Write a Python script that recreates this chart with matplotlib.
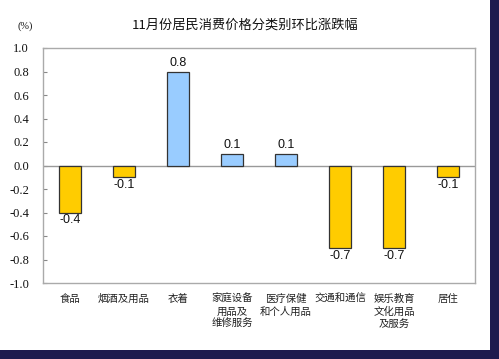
import matplotlib.pyplot as plt
from matplotlib.patches import Rectangle
import numpy as np

categories = ["食品", "烟酒及用品", "衣着", "家庭设备\n用品及\n维修服务",
              "医疗保健\n和个人用品", "交通和通信", "娱乐教育\n文化用品\n及服务", "居住"]
values = [-0.4, -0.1, 0.8, 0.1, 0.1, -0.7, -0.7, -0.1]
yticks = [-1.0, -0.8, -0.6, -0.4, -0.2, 0.0, 0.2, 0.4, 0.6, 0.8, 1.0]

cjk = ["Noto Sans CJK SC", "DejaVu Sans"]

fig = plt.figure(figsize=(4.99, 3.59), dpi=100)
fig.patch.set_facecolor("white")
# dark frame at right and bottom
fig.patches.append(Rectangle((490 / 499, 0), 9 / 499, 1, transform=fig.transFigure,
                             facecolor="#1e1b4e", edgecolor="none"))
fig.patches.append(Rectangle((0, 0), 1, 9 / 359, transform=fig.transFigure,
                             facecolor="#1e1b4e", edgecolor="none"))

ax = fig.add_axes([43 / 499, 1 - 283 / 359, 432 / 499, 235 / 359])
x = np.arange(len(values))
colors = ["#99ccff" if v > 0 else "#ffcc00" for v in values]
ax.bar(x, values, width=0.41, color=colors, edgecolor="#333333", linewidth=0.9, zorder=3)
ax.axhline(0, color="#999999", linewidth=1.0, zorder=2)

for xi, v in zip(x, values):
    if v > 0:
        ax.text(xi, v + 0.02, f"{v:.1f}", ha="center", va="bottom",
                fontsize=9, family="Liberation Sans", color="#111111")
    else:
        ax.text(xi, v - 0.015, f"{v:.1f}", ha="center", va="top",
                fontsize=9, family="Liberation Sans", color="#111111")

ax.set_xlim(-0.5, len(values) - 0.5)
ax.set_ylim(-1.0, 1.0)
ax.set_yticks(yticks)
ax.set_yticklabels([f"{t:.1f}" for t in yticks], family="Liberation Serif",
                   fontsize=9, color="#111111")
ax.set_xticks(x)
ax.set_xticklabels(categories, family=cjk, fontsize=7.5, linespacing=1.3, color="#222222")
ax.tick_params(axis="x", length=0, pad=8)
ax.tick_params(axis="y", direction="in", length=3, color="#888888", pad=10)
for s in ax.spines.values():
    s.set_color("#aaaaaa")
    s.set_linewidth(1.0)

fig.text(245 / 499, 1 - 25 / 359, "11月份居民消费价格分类别环比涨跌幅", ha="center", va="center",
         family=cjk, fontsize=9.5, color="#111111")
fig.text(25 / 499, 1 - 26 / 359, "(%)", ha="center", va="center",
         family="Liberation Serif", fontsize=7.5, color="#111111")

fig.savefig("out.png", dpi=100)
